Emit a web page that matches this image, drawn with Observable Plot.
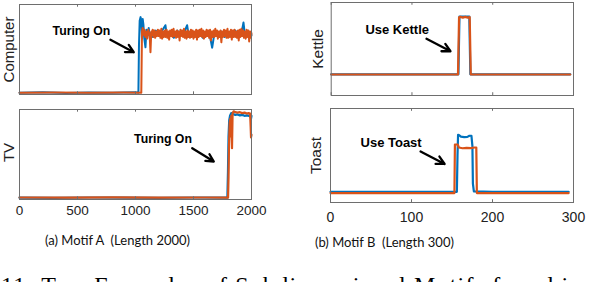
<!DOCTYPE html>
<html><head><meta charset="utf-8">
<script src="https://cdn.jsdelivr.net/npm/d3@7"></script>
<script src="https://cdn.jsdelivr.net/npm/@observablehq/plot@0.6"></script>
<style>
html,body{margin:0;padding:0;background:#fff;width:602px;height:282px;overflow:hidden}
#wrap{position:relative;width:602px;height:282px;overflow:hidden;background:#fff}
.panel{position:absolute}
.cap{position:absolute;font-family:Lato,"Open Sans",sans-serif;font-size:13px;white-space:pre;color:#111;line-height:1}
.fig{position:absolute;font-family:"Liberation Serif","Times New Roman",serif;font-size:24px;white-space:pre;color:#000;line-height:1;letter-spacing:1.2px}
</style></head>
<body><div id="wrap"></div>
<script>
// ---------- data ----------
const ticksA = [0, 500, 1000, 1500, 2000];
const ticksB = [0, 100, 200, 300];

const computerBlue = [[0,0.02],[200,0.025],[400,0.017],[600,0.023],[800,0.019],[1000,0.024],[1025,0.02],[1030,0.55],[1036,0.82],[1044,0.86],[1050,0.8],[1056,0.62],[1062,0.84],[1068,0.78],[1076,0.62],[1086,0.525],[1094,0.72],[1104,0.66],[1114,0.74],[1124,0.62],[1130,0.68],[1150,0.64],[1175,0.71],[1200,0.66],[1225,0.7],[1258,0.77],[1270,0.65],[1300,0.69],[1330,0.63],[1360,0.71],[1390,0.66],[1420,0.69],[1445,0.77],[1460,0.64],[1490,0.7],[1520,0.65],[1550,0.71],[1580,0.63],[1610,0.69],[1640,0.66],[1661,0.52],[1680,0.68],[1710,0.65],[1740,0.7],[1770,0.64],[1800,0.69],[1830,0.66],[1860,0.71],[1890,0.64],[1915,0.69],[1931,0.8],[1945,0.64],[1970,0.68],[2000,0.66]];
const computerOrange = [[0,0.02],[300,0.022],[600,0.019],[900,0.021],[1050,0.02],[1056,0.7],[1062,0.74],[1068,0.66],[1076,0.72],[1084,0.64],[1092,0.7],[1100,0.62],[1110,0.72],[1122,0.66],[1129,0.47],[1136,0.7],[1140,0.66],[1148,0.72],[1155,0.64],[1163,0.71],[1170,0.63],[1178,0.7],[1185,0.65],[1193,0.72],[1200,0.65],[1208,0.71],[1215,0.63],[1223,0.73],[1230,0.62],[1238,0.7],[1245,0.64],[1253,0.71],[1260,0.64],[1268,0.72],[1275,0.63],[1283,0.7],[1290,0.61],[1298,0.71],[1305,0.65],[1313,0.72],[1320,0.64],[1328,0.73],[1335,0.65],[1343,0.7],[1350,0.63],[1358,0.71],[1365,0.64],[1373,0.7],[1380,0.6],[1388,0.72],[1395,0.65],[1403,0.71],[1410,0.64],[1418,0.73],[1425,0.63],[1433,0.7],[1440,0.62],[1448,0.71],[1455,0.64],[1463,0.7],[1470,0.63],[1478,0.72],[1485,0.64],[1493,0.71],[1500,0.62],[1508,0.7],[1515,0.64],[1523,0.72],[1530,0.61],[1538,0.71],[1545,0.64],[1553,0.72],[1560,0.65],[1568,0.73],[1575,0.64],[1583,0.71],[1590,0.62],[1598,0.7],[1605,0.64],[1613,0.72],[1620,0.65],[1628,0.71],[1635,0.63],[1643,0.72],[1650,0.6],[1658,0.7],[1665,0.64],[1673,0.71],[1680,0.64],[1688,0.73],[1695,0.65],[1703,0.71],[1710,0.62],[1718,0.7],[1725,0.64],[1733,0.71],[1740,0.58],[1748,0.7],[1755,0.64],[1763,0.72],[1770,0.65],[1778,0.71],[1785,0.63],[1793,0.73],[1800,0.63],[1808,0.7],[1815,0.64],[1823,0.72],[1830,0.61],[1838,0.71],[1845,0.64],[1853,0.72],[1860,0.64],[1868,0.7],[1875,0.63],[1883,0.71],[1890,0.6],[1898,0.72],[1905,0.64],[1913,0.73],[1920,0.65],[1928,0.71],[1935,0.63],[1943,0.7],[1950,0.62],[1958,0.72],[1965,0.64],[1973,0.71],[1980,0.59],[1988,0.7],[1995,0.63],[2000,0.68]];

const tvBlue = [[0,0.02],[300,0.018],[600,0.022],[900,0.02],[1200,0.019],[1500,0.022],[1792,0.02],[1797,0.3],[1802,0.7],[1808,0.88],[1815,0.93],[1825,0.96],[1840,0.95],[1860,0.94],[1880,0.945],[1900,0.935],[1920,0.94],[1940,0.93],[1960,0.935],[1980,0.93],[1992,0.92],[1996,0.9],[2000,0.93]];
const tvOrange = [[0,0.022],[400,0.02],[800,0.024],[1200,0.02],[1600,0.022],[1798,0.02],[1802,0.25],[1806,0.6],[1812,0.85],[1818,0.9],[1822,0.7],[1826,0.93],[1832,0.57],[1837,0.96],[1846,0.98],[1860,0.97],[1880,0.965],[1900,0.97],[1920,0.96],[1940,0.965],[1960,0.955],[1975,0.96],[1988,0.955],[1993,0.8],[1996,0.69],[2000,0.72]];

const kettleBlue = [[0,0.228],[100,0.228],[157.5,0.228],[158.8,0.848],[171,0.848],[172.3,0.228],[240,0.228],[296,0.228]];
const kettleOrange = [[0,0.226],[50,0.226],[100,0.226],[157,0.226],[158.3,0.84],[160,0.845],[163,0.838],[166,0.845],[169,0.838],[171.5,0.842],[172.8,0.226],[200,0.226],[250,0.226],[296,0.226]];

const toastBlue = [[0,0.114],[80,0.114],[156,0.114],[156.8,0.5],[157.5,0.72],[159,0.715],[161,0.7],[165,0.696],[169,0.698],[171.5,0.71],[174,0.71],[175.2,0.6],[175.8,0.2],[177,0.118],[200,0.114],[294,0.114]];
const toastOrange = [[0,0.1],[100,0.1],[153,0.1],[153.6,0.617],[157,0.617],[158.5,0.585],[163,0.577],[168,0.582],[173,0.578],[178,0.585],[180,0.585],[180.7,0.1],[240,0.1],[294,0.1]];

const labels = ["Computer", "TV", "Kettle", "Toast"];
const notes = [
  {text: "Turing On", x: 534, y: 0.70, x1: 784, y1: 0.608, x2: 985, y2: 0.47},
  {text: "Turing On", x: 1237, y: 0.667, x1: 1489, y1: 0.57, x2: 1675, y2: 0.422},
  {text: "Use Kettle", x: 81.7, y: 0.71, x1: 118, y1: 0.61, x2: 147.7, y2: 0.476},
  {text: "Use Toast", x: 74.8, y: 0.635, x1: 111.2, y1: 0.543, x2: 140.9, y2: 0.41}
];
const captions = ["(a) Motif A  (Length 2000)", "(b) Motif B  (Length 300)"];
const figText = "11: Two Examples of Subdimensional Motifs found in";

// ---------- drawing ----------
const BLUE = "#0072BD", ORANGE = "#D95319", FRAME = "#6e6e6e";
const FONT = "'Liberation Sans', Arial, Helvetica, sans-serif";
const wrap = document.getElementById("wrap");

function panel(o) {
  const marks = [
    Plot.line(o.blue, {x: d => d[0], y: d => d[1], stroke: BLUE, strokeWidth: o.sw}),
    Plot.line(o.orange, {x: d => d[0], y: d => d[1], stroke: ORANGE, strokeWidth: o.sw}),
    Plot.frame({stroke: FRAME}),
    Plot.ruleX(o.ticks, {x: d => d, y1: 0, y2: 0.03, stroke: FRAME}),
    Plot.ruleX(o.ticks, {x: d => d, y1: 0.97, y2: 1, stroke: FRAME}),
    Plot.text([o.label], {frameAnchor: "left", textAnchor: "middle", rotate: -90, dx: o.labelDx, dy: o.labelDy || 0, fontSize: o.labelSize, fill: "#222"}),
    Plot.text([o.note], {x: d => d.x, y: d => d.y, text: d => d.text, fontWeight: "bold", fontSize: o.noteSize, fill: "#000"}),
    Plot.arrow([o.note], {x1: d => d.x1, y1: d => d.y1, x2: d => d.x2, y2: d => d.y2, stroke: "#000", strokeWidth: 2.3, headLength: 7, headAngle: 55})
  ];
  if (o.axis) marks.push(Plot.axisX(o.ticks, {tickSize: 0, tickPadding: o.tickPad, fontSize: o.tickSize, tickFormat: d => String(d), label: null, fill: "#222"}));
  const svg = Plot.plot({
    width: o.width, height: o.height,
    marginTop: o.mt, marginRight: o.mr, marginBottom: o.mb, marginLeft: o.ml,
    x: {domain: o.xDomain, axis: o.axis ? undefined : null, label: null},
    y: {domain: [0, 1], axis: null},
    style: {fontFamily: FONT, background: "transparent", overflow: "visible"},
    marks
  });
  const div = document.createElement("div");
  div.className = "panel";
  div.style.left = o.left + "px";
  div.style.top = o.top + "px";
  div.appendChild(svg);
  wrap.appendChild(div);
}

panel({left: 0, top: 0, width: 260, height: 100, mt: 4, mr: 9, mb: 6, ml: 19, xDomain: [0, 2000], ticks: ticksA, axis: false,
  blue: computerBlue, orange: computerOrange, label: labels[0], labelDx: -10.5, labelSize: 15, note: notes[0], noteSize: 12.3, sw: 2});
panel({left: 0, top: 100, width: 260, height: 125, mt: 9, mr: 9, mb: 26, ml: 19, xDomain: [0, 2000], ticks: ticksA, axis: true, tickPad: 6, tickSize: 13.5,
  blue: tvBlue, orange: tvOrange, label: labels[1], labelDx: -10.5, labelDy: -2, labelSize: 15, note: notes[1], noteSize: 12.3, sw: 2.2});
panel({left: 300, top: 0, width: 302, height: 100, mt: 2, mr: 29, mb: 5, ml: 30.7, xDomain: [0, 300], ticks: ticksB, axis: false,
  blue: kettleBlue, orange: kettleOrange, label: labels[2], labelDx: -13, labelSize: 15.5, note: notes[2], noteSize: 13, sw: 2.2});
panel({left: 300, top: 100, width: 302, height: 130, mt: 8, mr: 29, mb: 28, ml: 30, xDomain: [0, 300], ticks: ticksB, axis: true, tickPad: 10, tickSize: 14,
  blue: toastBlue, orange: toastOrange, label: labels[3], labelDx: -14.3, labelSize: 15.5, note: notes[3], noteSize: 13, sw: 2.2});

function addText(cls, txt, left, top) {
  const d = document.createElement("div");
  d.className = cls; d.textContent = txt;
  d.style.left = left + "px"; d.style.top = top + "px";
  wrap.appendChild(d);
}
addText("cap", captions[0], 45, 234);
addText("cap", captions[1], 315, 236);
addText("fig", figText, 1, 273);
</script></body></html>
